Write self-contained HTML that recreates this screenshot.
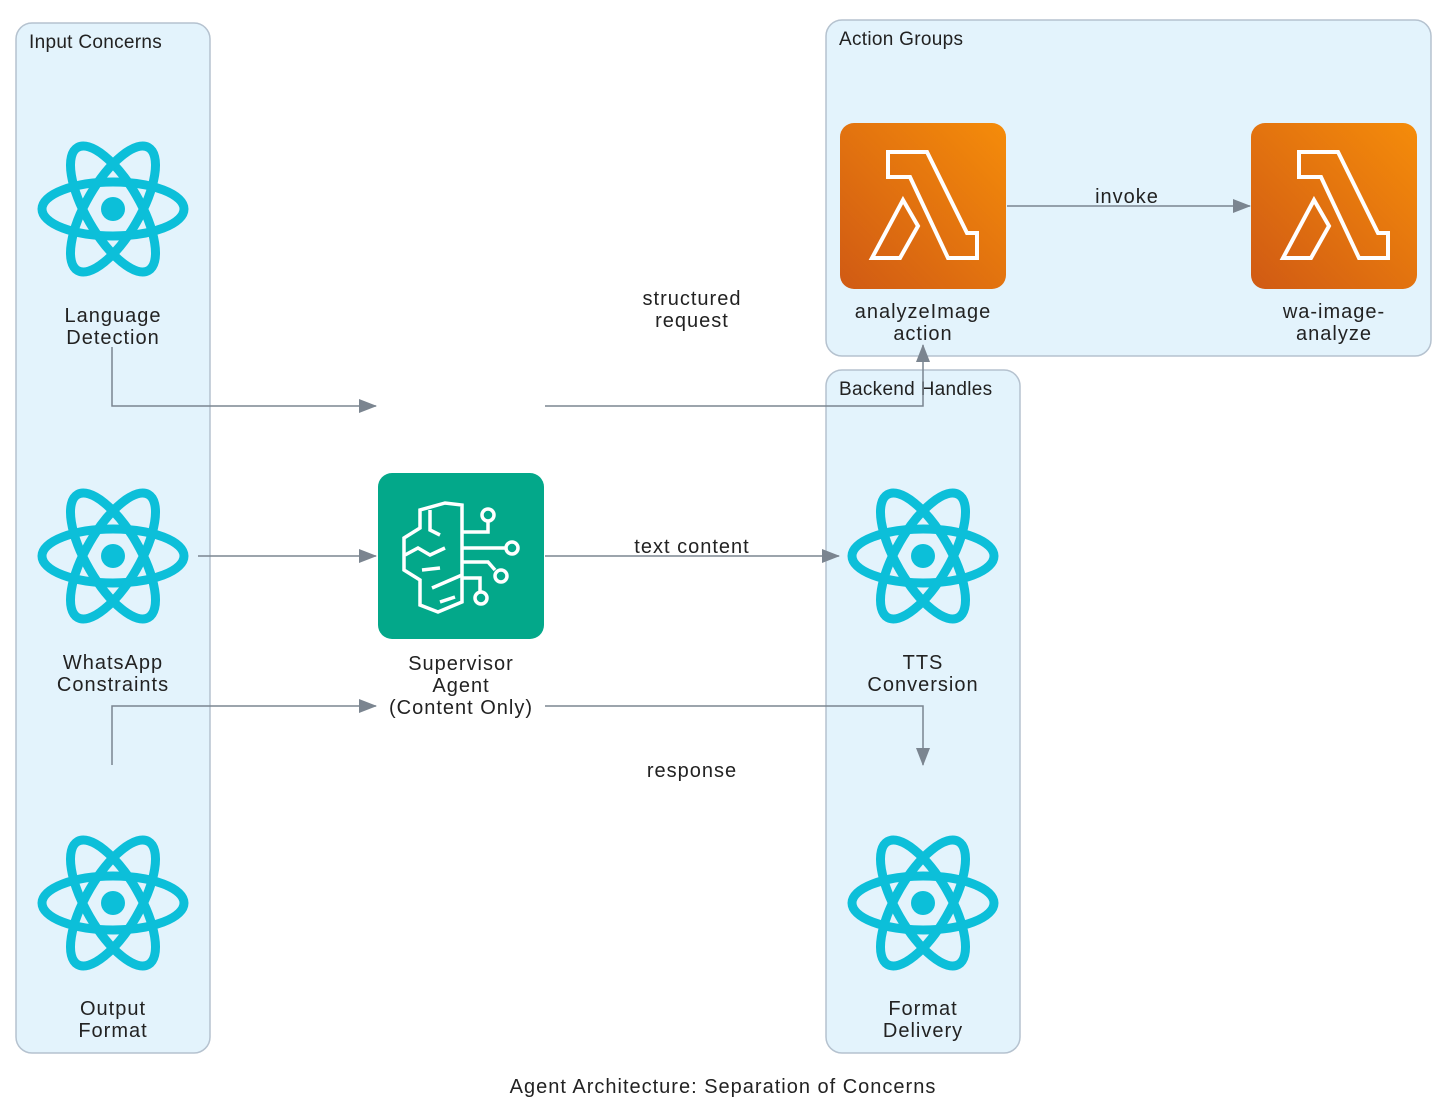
<!DOCTYPE html>
<html><head><meta charset="utf-8"><style>
body{margin:0;background:#fff;}
svg{display:block;font-family:"Liberation Sans",sans-serif;}
</style></head><body>
<svg width="1450" height="1110" viewBox="0 0 1450 1110" xmlns="http://www.w3.org/2000/svg">
<defs>
<g id="react" fill="none" stroke="#0cbfd9" stroke-width="9">
<ellipse rx="71" ry="27"/>
<ellipse rx="71" ry="27" transform="rotate(60)"/>
<ellipse rx="71" ry="27" transform="rotate(120)"/>
<circle r="12" fill="#0cbfd9" stroke="none"/>
</g>
<linearGradient id="lg" x1="0" y1="1" x2="1" y2="0"><stop offset="0" stop-color="#d05a14"/><stop offset="1" stop-color="#f58c0a"/></linearGradient>
<g id="lam">
<rect width="166" height="166" rx="14" fill="url(#lg)"/>
<g fill="none" stroke="#fff" stroke-width="4" stroke-linejoin="miter">
<polygon points="48,29 87,29 127,110 137,110 137,135 108,135 70,54 48,54"/>
<polygon points="63,77 78,103 60,135 32,135"/>
</g>
</g>
<marker id="ar" markerWidth="18" markerHeight="14" refX="17" refY="7" orient="auto" markerUnits="userSpaceOnUse"><path d="M0,0 L18,7 L0,14z" fill="#7b8590"/></marker>
</defs>
<g fill="#e3f3fc" stroke="#b5c2cf" stroke-width="1.5">
<rect x="16" y="23" width="194" height="1030" rx="16"/>
<rect x="826" y="20" width="605" height="336" rx="16"/>
<rect x="826" y="370" width="194" height="683" rx="16"/>
</g>
<g font-size="19" fill="#222" letter-spacing="0.3">
<text x="29" y="48">Input Concerns</text>
<text x="839" y="45">Action Groups</text>
<text x="839" y="395">Backend Handles</text>
</g>
<use href="#react" x="113" y="209"/>
<use href="#react" x="113" y="556"/>
<use href="#react" x="113" y="903"/>
<use href="#react" x="923" y="556"/>
<use href="#react" x="923" y="903"/>
<use href="#lam" x="840" y="123"/>
<use href="#lam" x="1251" y="123"/>
<rect x="378" y="473" width="166" height="166" rx="14" fill="#03a88a"/>
<g fill="none" stroke="#fff" stroke-width="3.5">
<path d="M445,503 L420,510 L420,528 L404,538 L404,570 L420,580 L420,605 L438,612 L462,602 L462,505 Z"/>
<path d="M430,510 L430,530 L440,535"/><path d="M405,555 L418,548 L430,555 L445,548"/><path d="M422,570 L440,568"/><path d="M432,588 L462,575"/><path d="M440,602 L455,597"/>
<path d="M462,532 L488,532 L488,522"/><circle cx="488" cy="515" r="6"/>
<path d="M462,548 L505,548"/><circle cx="512" cy="548" r="6"/>
<path d="M462,562 L488,562 L495,570"/><circle cx="501" cy="576" r="6"/>
<path d="M462,578 L480,578 L480,592"/><circle cx="481" cy="598" r="6"/>
</g>
<g fill="none" stroke="#7b8590" stroke-width="1.5">
<path d="M112,347 L112,406 L376,406" marker-end="url(#ar)"/>
<path d="M545,406 L923,406 L923,345" marker-end="url(#ar)"/>
<path d="M198,556 L376,556" marker-end="url(#ar)"/>
<path d="M545,556 L839,556" marker-end="url(#ar)"/>
<path d="M112,765 L112,706 L376,706" marker-end="url(#ar)"/>
<path d="M545,706 L923,706 L923,765" marker-end="url(#ar)"/>
<path d="M1007,206 L1250,206" marker-end="url(#ar)"/>
</g>
<g font-size="20" fill="#222" text-anchor="middle" letter-spacing="1">
<text x="113" y="322">Language</text><text x="113" y="344">Detection</text>
<text x="113" y="669">WhatsApp</text><text x="113" y="691">Constraints</text>
<text x="113" y="1015">Output</text><text x="113" y="1037">Format</text>
<text x="461" y="670">Supervisor</text><text x="461" y="692">Agent</text><text x="461" y="714">(Content Only)</text>
<text x="923" y="669">TTS</text><text x="923" y="691">Conversion</text>
<text x="923" y="1015">Format</text><text x="923" y="1037">Delivery</text>
<text x="923" y="318">analyzeImage</text><text x="923" y="340">action</text>
<text x="1334" y="318">wa-image-</text><text x="1334" y="340">analyze</text>
<text x="692" y="305">structured</text><text x="692" y="327">request</text>
<text x="692" y="553">text content</text>
<text x="692" y="777">response</text>
<text x="1127" y="203">invoke</text>
<text x="723" y="1093">Agent Architecture: Separation of Concerns</text>
</g>
</svg>
</body></html>
